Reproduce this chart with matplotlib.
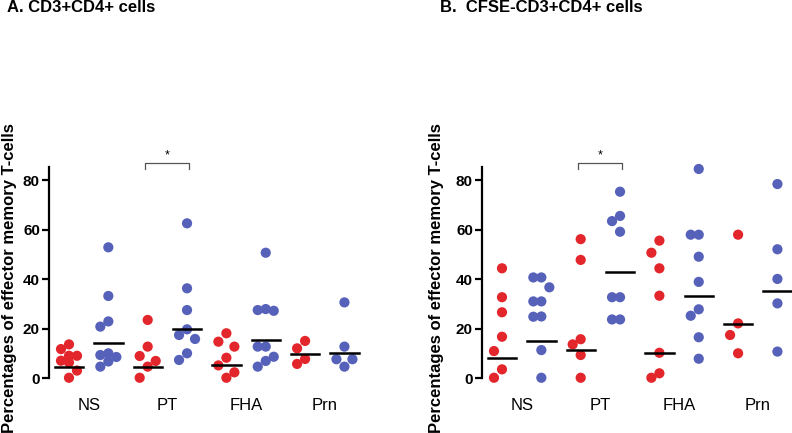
import numpy as np
import matplotlib
matplotlib.use("Agg")
from matplotlib import pyplot as plt

plt.rcParams['font.family'] = ['Liberation Sans', 'DejaVu Sans']

groups = ["NS", "PT", "FHA", "Prn"]
ylabel = "Percentages of effector memory T-cells"
titles = ["A. CD3+CD4+ cells", "B.  CFSE-CD3+CD4+ cells"]

# panel A: CD3+CD4+ cells, (red, blue) per antigen
a_ns_red = [13.6, 11.7, 9.0, 9.0, 6.3, 7.0, 3.0, 0.1]
a_ns_blue = [52.9, 33.2, 22.9, 20.8, 10.0, 9.3, 8.5, 6.7, 4.6]
a_pt_red = [23.5, 12.7, 8.9, 6.9, 4.6, 0.1]
a_pt_blue = [62.6, 36.3, 27.5, 19.7, 17.4, 15.8, 10.0, 7.3]
a_fha_red = [18.1, 14.7, 12.7, 8.2, 5.1, 2.3, 0.1]
a_fha_blue = [50.7, 27.9, 27.2, 27.5, 12.7, 12.7, 8.6, 6.9, 4.6]
a_prn_red = [15.0, 12.0, 7.7, 5.7]
a_prn_blue = [30.6, 12.7, 7.6, 7.6, 4.6]
a_lines = [4.3, 14.2, 4.6, 19.7, 5.1, 15.4, 9.7, 10.2]

# panel B: CFSE-CD3+CD4+ cells
b_ns_red = [44.4, 32.7, 26.6, 16.7, 10.9, 3.5, 0.1]
b_ns_blue = [40.7, 40.7, 36.7, 31.0, 31.0, 24.8, 24.9, 11.3, 0.1]
b_pt_red = [56.2, 47.8, 15.7, 13.6, 9.3, 0.1]
b_pt_blue = [75.4, 65.6, 63.5, 59.2, 32.7, 32.7, 23.7, 23.7]
b_fha_red = [55.6, 50.7, 44.4, 33.3, 10.2, 1.9, 0.1]
b_fha_blue = [84.6, 58.0, 58.0, 49.1, 38.9, 27.8, 25.2, 16.5, 7.8]
b_prn_red = [58.0, 22.1, 17.4, 10.0]
b_prn_blue = [78.5, 52.1, 40.1, 30.2, 10.7]
b_lines = [8.2, 15.1, 11.3, 42.8, 10.2, 33.2, 21.9, 35.2]

panel_a = [a_ns_red, a_ns_blue, a_pt_red, a_pt_blue,
           a_fha_red, a_fha_blue, a_prn_red, a_prn_blue]
panel_b = [b_ns_red, b_ns_blue, b_pt_red, b_pt_blue,
           b_fha_red, b_fha_blue, b_prn_red, b_prn_blue]

RED = "#e3262b"
BLUE = "#5661ba"
PX_X = 39.35   # pixels per x unit
PX_Y = 2.471   # pixels per y unit


def swarm(vals, step=8.0, h=15.0):
    # prism-like scatter: three columns, spread points that sit close in y
    order = np.argsort(vals)[::-1]
    cols = {-1: [], 0: [], 1: []}
    offs = np.zeros(len(vals))
    for i in order:
        y = vals[i] * PX_Y
        best, gap = 0, -1
        for k in [0, -1, 1]:
            g = min([abs(y - py) for py in cols[k]], default=1e9)
            if g >= h:
                best = k
                break
            if g > gap:
                best, gap = k, g
        cols[best].append(y)
        offs[i] = best * step / PX_X
    return offs


fig = plt.figure(figsize=(7.92, 4.33), dpi=100)
W, H = 792, 433
ax_a = fig.add_axes([49 / W, (H - 378) / H, 330 / W, 211 / H])
ax_b = fig.add_axes([482 / W, (H - 378) / H, 310 / W, 211 / H])

for ax, data, lines in [(ax_a, panel_a, a_lines), (ax_b, panel_b, b_lines)]:
    for i, vals in enumerate(data):
        vals = np.array(vals)
        xs = i + swarm(vals)
        ax.scatter(xs, vals, s=54, color=RED if i % 2 == 0 else BLUE,
                   edgecolors="none", clip_on=False, zorder=2)
        ax.plot([i - 0.36, i + 0.36], [lines[i], lines[i]], color="black",
                lw=1.8, clip_on=False, zorder=3)
    ax.set_ylim(0, 85.4)
    ax.set_yticks([0, 20, 40, 60, 80])
    ax.set_xticks([])
    for s in ["top", "right", "bottom"]:
        ax.spines[s].set_visible(False)
    ax.spines["left"].set_linewidth(1.6)
    ax.tick_params(axis="y", length=5, width=1.6, labelsize=11, pad=1.5)
    for lab in ax.get_yticklabels():
        lab.set_fontweight("bold")
    for g in range(4):
        ax.text(2 * g + 0.5, -11, groups[g], ha="center", va="center",
                fontsize=12, clip_on=False)
    # significance bracket over PT
    ax.plot([1.93, 1.93, 3.05, 3.05], [84.6, 86.9, 86.9, 84.6],
            color="#555555", lw=0.9, clip_on=False)
    ax.text(2.49, 87.5, "*", ha="center", va="bottom", fontsize=9,
            clip_on=False)

ax_a.set_xlim(-0.508, 330 / PX_X - 0.508)
ax_b.set_xlim(-0.508, 310 / PX_X - 0.508)

fig.text(10 / W, 1 - 278 / H, ylabel, rotation=90, ha="center", va="center",
         fontsize=12, fontweight="bold")
fig.text(436 / W, 1 - 278 / H, ylabel, rotation=90, ha="center", va="center",
         fontsize=12, fontweight="bold")
fig.text(7 / W, 1 - 8 / H, titles[0], ha="left", va="center",
         fontsize=12, fontweight="bold")
fig.text(440 / W, 1 - 8 / H, titles[1], ha="left", va="center",
         fontsize=12, fontweight="bold")

fig.savefig("out.png", dpi=100)
